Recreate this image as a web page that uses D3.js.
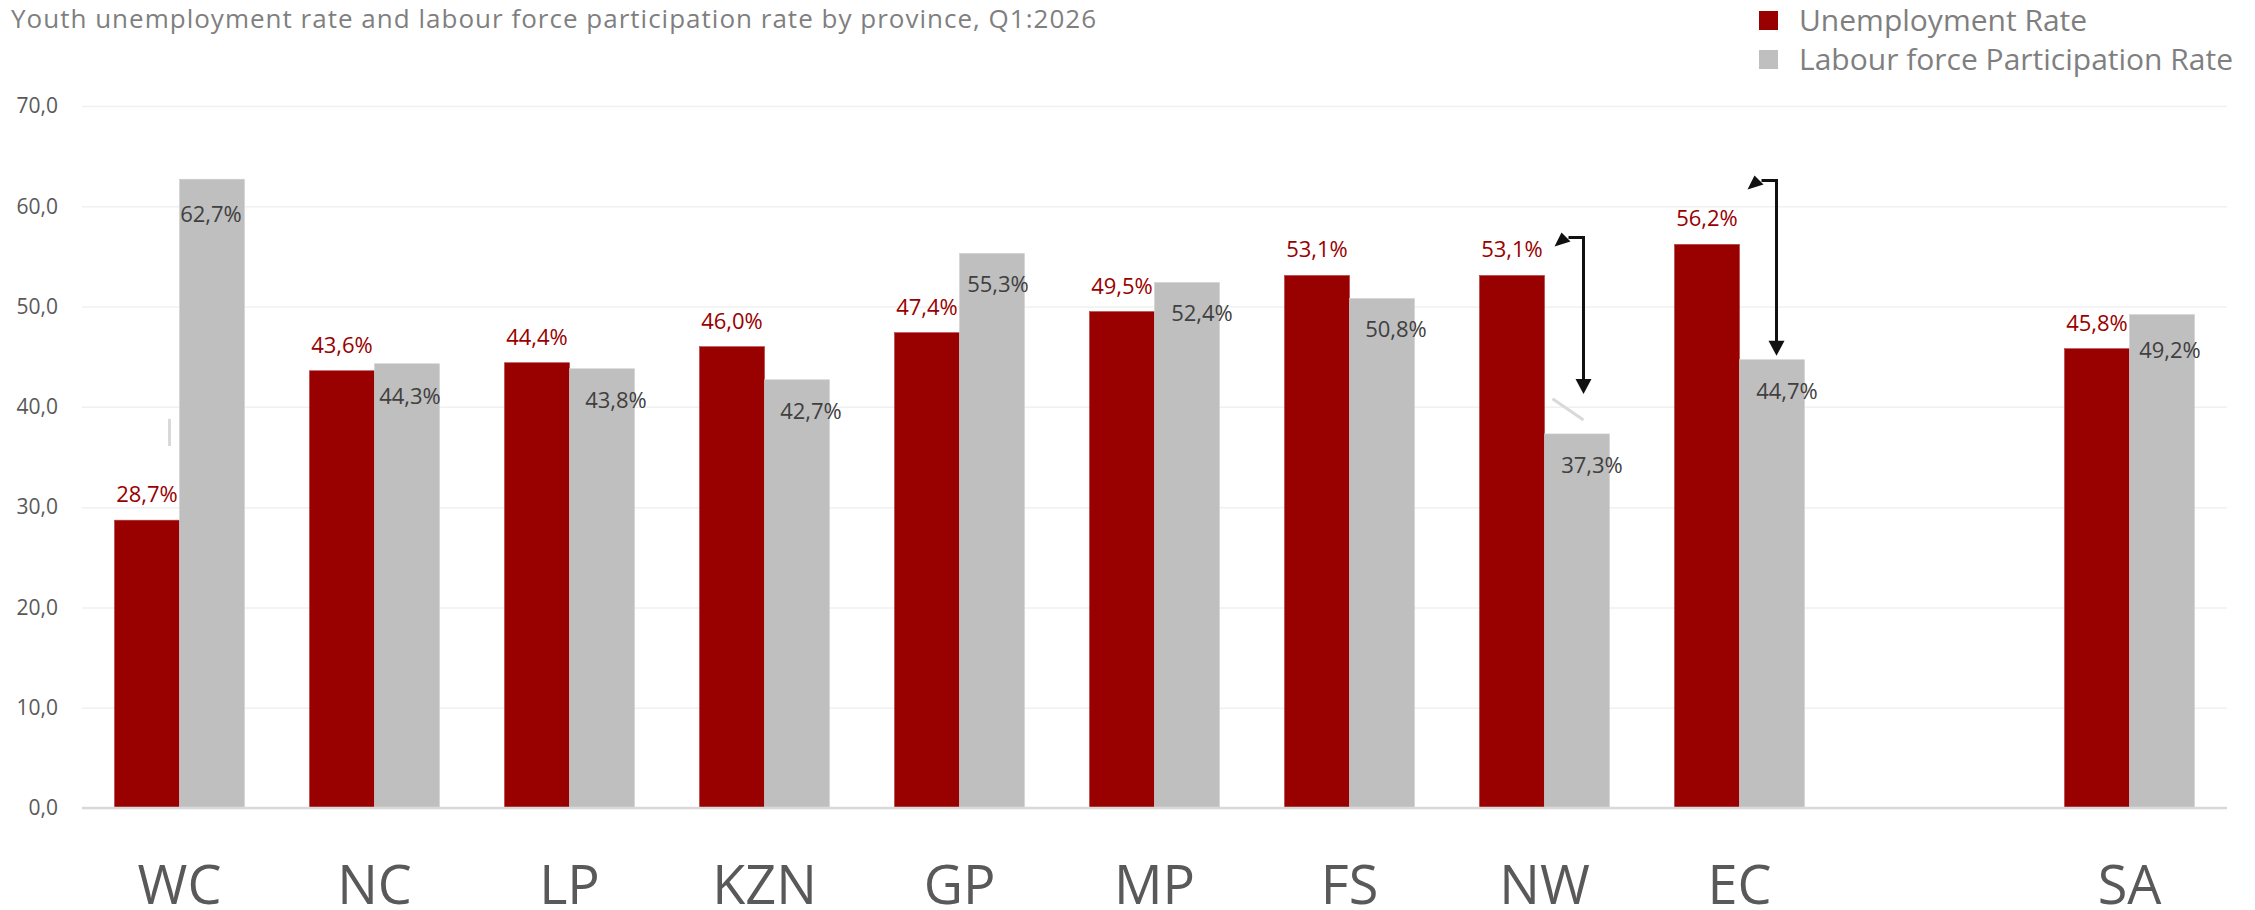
<!DOCTYPE html>
<html>
<head>
<meta charset="utf-8">
<script src="https://cdn.jsdelivr.net/npm/d3@7"></script>
<style>
  body { margin: 0; background: #fff; }
  svg text { font-family: "Open Sans", "Noto Sans", sans-serif; }
</style>
</head>
<body>
<div id="chart"></div>
<script>
// chart data
var provinces = ["WC", "NC", "LP", "KZN", "GP", "MP", "FS", "NW", "EC", "", "SA"];
var unemployment = [28.7, 43.6, 44.4, 46.0, 47.4, 49.5, 53.1, 53.1, 56.2, null, 45.8];
var participation = [62.7, 44.3, 43.8, 42.7, 55.3, 52.4, 50.8, 37.3, 44.7, null, 49.2];
var yTicks = [0, 10, 20, 30, 40, 50, 60, 70];
var seriesNames = ["Unemployment Rate", "Labour force Participation Rate"];
var title = "Youth unemployment rate and labour force participation rate by province, Q1:2026";

// manual nudges of the grey labels (as moved by hand in the original)
var greyLabelDx = [-1, 3, 14, 14, 6, 15, 14, 15, 15, 0, 8];
var greyLabelDy = [43, 40, 39, 39, 39, 38, 38, 39, 39, 0, 43];

var svgWidth = 2255;
var svgHeight = 910;

var margin = { top: 106, right: 28, bottom: 102, left: 82 };
var width = svgWidth - margin.left - margin.right;
var height = svgHeight - margin.top - margin.bottom;

var red = "#990000";
var grey = "#bfbfbf";
var ink = "#111";

var svg = d3.select("#chart")
  .append("svg")
  .attr("width", svgWidth)
  .attr("height", svgHeight);

var chartGroup = svg.append("g")
  .attr("transform", `translate(${margin.left}, ${margin.top})`);

var data = provinces.map(function(p, i) {
  return { key: p === "" ? "gap" : p, name: p, ur: unemployment[i], lfpr: participation[i], i: i };
});

var x = d3.scaleBand()
  .domain(data.map(d => d.key))
  .range([0, width])
  .paddingInner(1 / 3)
  .paddingOuter(1 / 6);

var y = d3.scaleLinear()
  .domain([0, 70])
  .range([height, 0]);

var bw = x.bandwidth() / 2;

var locale = d3.formatLocale({ decimal: ",", thousands: " ", grouping: [3], currency: ["", ""] });
var fmtTick = locale.format(".1f");
var fmtPct = function(v) { return locale.format(".1f")(v) + "%"; };

// y axis + gridlines
var leftAxis = d3.axisLeft(y)
  .tickValues(yTicks)
  .tickSize(-width)
  .tickPadding(24)
  .tickFormat(fmtTick);

var yAxisG = chartGroup.append("g").call(leftAxis);
yAxisG.select(".domain").remove();
yAxisG.selectAll(".tick line")
  .attr("stroke", "#f0f0f0")
  .attr("stroke-width", 1.5);
yAxisG.selectAll(".tick text")
  .attr("fill", "#595959")
  .attr("font-size", "21px");

// x axis labels
var bottomAxis = d3.axisBottom(x)
  .tickSize(0)
  .tickFormat(function(k) { return k === "gap" ? "" : k; });

var xAxisG = chartGroup.append("g")
  .attr("transform", `translate(0, ${height})`)
  .call(bottomAxis);
xAxisG.select(".domain").remove();
xAxisG.selectAll(".tick text")
  .attr("y", 96)
  .attr("dy", 0)
  .attr("fill", "#595959")
  .attr("font-size", "54px");

var bars = data.filter(d => d.ur !== null);

// unemployment bars
chartGroup.selectAll(".bar-ur")
  .data(bars)
  .enter()
  .append("rect")
  .attr("class", "bar-ur")
  .attr("x", d => x(d.key))
  .attr("y", d => y(d.ur))
  .attr("width", bw)
  .attr("height", d => height - y(d.ur))
  .attr("fill", red)
  .attr("stroke", "#b33a3a")
  .attr("stroke-width", 0.6);

// participation bars
chartGroup.selectAll(".bar-lfpr")
  .data(bars)
  .enter()
  .append("rect")
  .attr("class", "bar-lfpr")
  .attr("x", d => x(d.key) + bw)
  .attr("y", d => y(d.lfpr))
  .attr("width", bw)
  .attr("height", d => height - y(d.lfpr))
  .attr("fill", grey)
  .attr("stroke", "#d0d0d0")
  .attr("stroke-width", 0.6);

// baseline
chartGroup.append("line")
  .attr("x1", 0)
  .attr("x2", width)
  .attr("y1", y(0))
  .attr("y2", y(0))
  .attr("stroke", "#d9d9d9")
  .attr("stroke-width", 2.5);

// data labels
chartGroup.selectAll(".lab-ur")
  .data(bars)
  .enter()
  .append("text")
  .attr("class", "lab-ur")
  .attr("x", d => x(d.key) + bw / 2)
  .attr("y", d => y(d.ur) - 18)
  .attr("text-anchor", "middle")
  .attr("fill", red)
  .attr("font-size", "22px")
  .text(d => fmtPct(d.ur));

chartGroup.selectAll(".lab-lfpr")
  .data(bars)
  .enter()
  .append("text")
  .attr("class", "lab-lfpr")
  .attr("x", d => x(d.key) + bw * 1.5 + greyLabelDx[d.i])
  .attr("y", d => y(d.lfpr) + greyLabelDy[d.i])
  .attr("text-anchor", "middle")
  .attr("fill", "#404040")
  .attr("font-size", "22px")
  .text(d => fmtPct(d.lfpr));

// faint leader lines left from moved labels
var wc = data[0], nw = data[7], ec = data[8];
chartGroup.append("line")
  .attr("x1", x(wc.key) + bw - 10).attr("x2", x(wc.key) + bw - 10)
  .attr("y1", y(38.8)).attr("y2", y(36.1))
  .attr("stroke", "#d9d9d9").attr("stroke-width", 3);
chartGroup.append("line")
  .attr("x1", x(nw.key) + bw + 8).attr("x2", x(nw.key) + bw + 39)
  .attr("y1", y(40.8)).attr("y2", y(38.7))
  .attr("stroke", "#d9d9d9").attr("stroke-width", 3);

// elbow arrows (annotations): short left hook at top, long drop to the grey bar
function elbow(d, topY, bottomY, dxLine) {
  var lx = x(d.key) + bw * 1.5 + dxLine;
  chartGroup.append("path")
    .attr("d", `M${lx - 15},${topY} L${lx},${topY} L${lx},${bottomY - 12}`)
    .attr("fill", "none")
    .attr("stroke", ink)
    .attr("stroke-width", 3);
  // head pointing left-down at the hook
  chartGroup.append("path")
    .attr("d", `M${lx - 29},${topY + 9} L${lx - 22},${topY - 5} L${lx - 13},${topY + 4} Z`)
    .attr("fill", ink);
  // head pointing down at the grey bar
  chartGroup.append("path")
    .attr("d", `M${lx},${bottomY} L${lx - 8},${bottomY - 15} L${lx + 8},${bottomY - 15} Z`)
    .attr("fill", ink);
}

elbow(nw, y(nw.ur) - 38, y(nw.lfpr) - 40, 6.5);
elbow(ec, y(ec.ur) - 64, y(ec.lfpr) - 4, 4.5);

// title
svg.append("text")
  .attr("x", 11)
  .attr("y", 28)
  .attr("fill", "#7f7f7f")
  .attr("font-size", "26px")
  .attr("textLength", 1085)
  .attr("lengthAdjust", "spacing")
  .text(title);

// legend
var legend = svg.append("g")
  .attr("transform", "translate(1759, 11)");

var legendItems = legend.selectAll("g")
  .data(seriesNames)
  .enter()
  .append("g")
  .attr("transform", (d, i) => `translate(0, ${i * 39})`);

legendItems.append("rect")
  .attr("width", 19)
  .attr("height", 19)
  .attr("fill", (d, i) => i === 0 ? red : grey);

legendItems.append("text")
  .attr("x", 40)
  .attr("y", 20)
  .attr("fill", "#7f7f7f")
  .attr("font-size", "30px")
  .text(d => d);
</script>
</body>
</html>
